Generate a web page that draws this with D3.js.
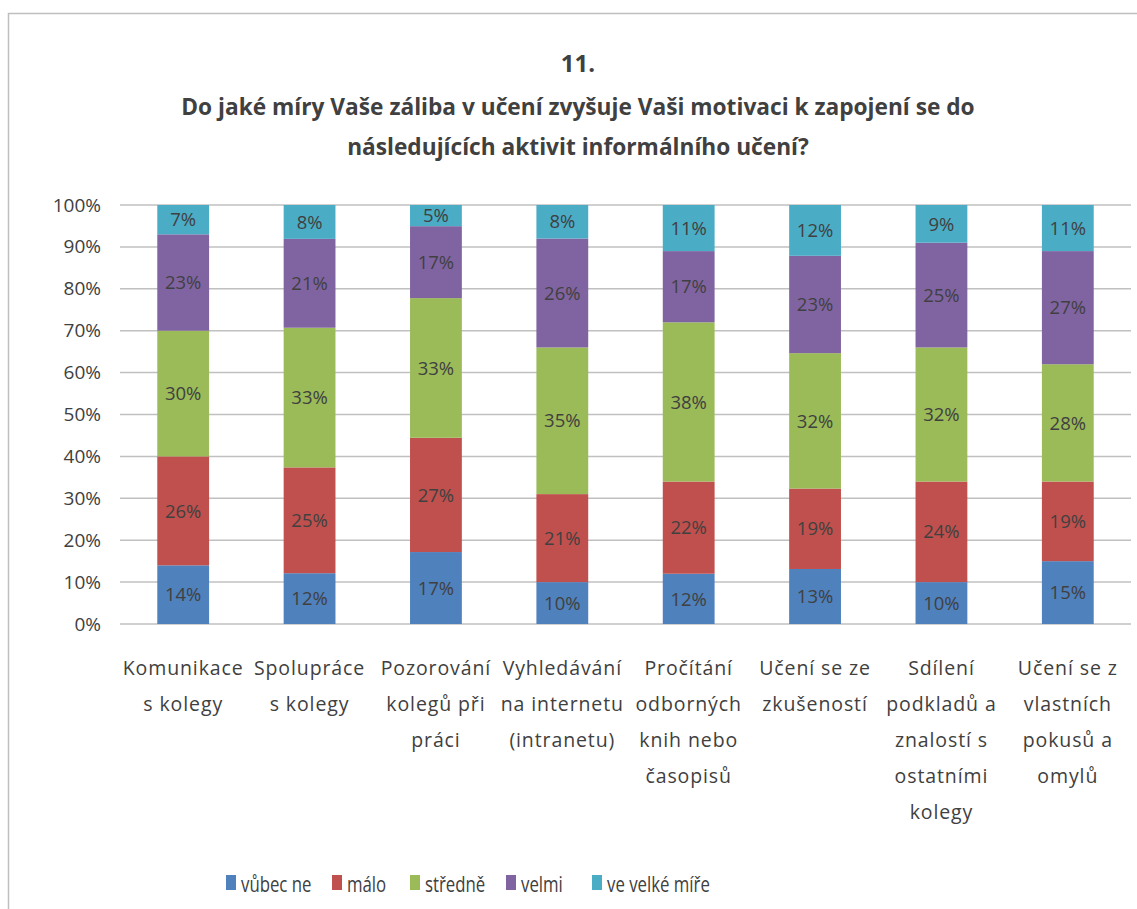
<!DOCTYPE html>
<html>
<head>
<meta charset="utf-8">
<script src="https://cdn.jsdelivr.net/npm/d3@7"></script>
<style>
  html, body { margin: 0; padding: 0; background: #fff; }
  svg text { font-family: "Open Sans", "Noto Sans", sans-serif; fill: #404040; }
</style>
</head>
<body>
<svg id="chart" width="1137" height="909"></svg>
<script>
// Activities (line breaks as shown under each bar)
const categories = [
  "Komunikace\ns kolegy",
  "Spolupráce\ns kolegy",
  "Pozorování\nkolegů při\npráci",
  "Vyhledávání\nna internetu\n(intranetu)",
  "Pročítání\nodborných\nknih nebo\nčasopisů",
  "Učení se ze\nzkušeností",
  "Sdílení\npodkladů a\nznalostí s\nostatními\nkolegy",
  "Učení se z\nvlastních\npokusů a\nomylů"
];

const seriesNames = ["vůbec ne", "málo", "středně", "velmi", "ve velké míře"];
const seriesColors = ["#4F81BD", "#C0504D", "#9BBB59", "#8064A2", "#4BACC6"];

// Percent answers per activity, one array per answer level
const vubecNe   = [14, 12, 17, 10, 12, 13, 10, 15];
const malo      = [26, 25, 27, 21, 22, 19, 24, 19];
const stredne   = [30, 33, 33, 35, 38, 32, 32, 28];
const velmi     = [23, 21, 17, 26, 17, 23, 25, 27];
const veVelkeMire = [7, 8, 5, 8, 11, 12, 9, 11];

const yTicks = [0, 0.1, 0.2, 0.3, 0.4, 0.5, 0.6, 0.7, 0.8, 0.9, 1];

const titleLines = [
  "11.",
  "Do jaké míry Vaše záliba v učení zvyšuje Vaši motivaci k zapojení se do",
  "následujících aktivit informálního učení?"
];

const seriesValues = [vubecNe, malo, stredne, velmi, veVelkeMire];
const rows = categories.map((c, i) => {
  const r = { category: c };
  seriesNames.forEach((s, k) => { r[s] = seriesValues[k][i]; });
  return r;
});

const svg = d3.select("#chart");

// chart frame
svg.append("rect")
  .attr("x", 8.5).attr("y", 13.5)
  .attr("width", 1160).attr("height", 920)
  .attr("fill", "none").attr("stroke", "#bfbfbf").attr("stroke-width", 1.5);

const plot = { left: 120, right: 1131, top: 205, bottom: 624 };

const x = d3.scaleBand()
  .domain(categories)
  .range([plot.left, plot.right])
  .paddingInner(0.59)
  .paddingOuter(0.295);

const y = d3.scaleLinear().domain([0, 1]).range([plot.bottom, plot.top]);

const stack = d3.stack().keys(seriesNames).offset(d3.stackOffsetExpand);
const stacked = stack(rows);

// gridlines
svg.append("g")
  .selectAll("line")
  .data(yTicks)
  .join("line")
  .attr("x1", plot.left).attr("x2", plot.right)
  .attr("y1", d => y(d)).attr("y2", d => y(d))
  .attr("stroke", "#c0c0c0").attr("stroke-width", 1.5);

// y axis labels
const yAxis = d3.axisLeft(y).tickValues(yTicks).tickFormat(d3.format(".0%")).tickSize(0).tickPadding(0);
const yg = svg.append("g").attr("transform", `translate(101,0)`).call(yAxis);
yg.select(".domain").remove();
yg.selectAll("text")
  .attr("font-size", 19)
  .attr("fill", "#404040")
  .attr("font-family", "Open Sans, sans-serif");

// bars
const layers = svg.append("g").selectAll("g")
  .data(stacked)
  .join("g")
  .attr("fill", (d, i) => seriesColors[i]);

layers.selectAll("rect")
  .data(d => d.map(p => ({ p, key: d.key })))
  .join("rect")
  .attr("x", d => x(d.p.data.category))
  .attr("width", x.bandwidth())
  .attr("y", d => y(d.p[1]))
  .attr("height", d => y(d.p[0]) - y(d.p[1]));

// value labels
layers.selectAll("text")
  .data(d => d.map(p => ({ p, key: d.key })))
  .join("text")
  .attr("x", d => x(d.p.data.category) + x.bandwidth() / 2)
  .attr("y", d => (y(d.p[0]) + y(d.p[1])) / 2)
  .attr("dy", "0.36em")
  .attr("text-anchor", "middle")
  .attr("font-size", 18.5)
  .text(d => d.p.data[d.key] + "%");

// category labels
const cat = svg.append("g").selectAll("text")
  .data(categories)
  .join("text")
  .attr("x", d => x(d) + x.bandwidth() / 2)
  .attr("y", 675)
  .attr("text-anchor", "middle")
  .attr("font-size", 19.5)
  .attr("letter-spacing", 0.9);
cat.selectAll("tspan")
  .data(d => d.split("\n"))
  .join("tspan")
  .attr("x", function () { return d3.select(this.parentNode).attr("x"); })
  .attr("dy", (d, i) => i === 0 ? 0 : 36)
  .text(d => d);

// title
svg.append("g").selectAll("text")
  .data(titleLines)
  .join("text")
  .attr("x", 578)
  .attr("y", (d, i) => [72, 115, 155][i])
  .attr("text-anchor", "middle")
  .attr("font-weight", "bold")
  .attr("font-size", (d, i) => i === 0 ? 24 : 22.7)
  .text(d => d);

// legend
const legendX = [226, 332, 410, 506, 592];
const legend = svg.append("g").selectAll("g")
  .data(seriesNames)
  .join("g")
  .attr("transform", (d, i) => `translate(${legendX[i]},875)`);
legend.append("rect")
  .attr("width", 10).attr("height", 15)
  .attr("fill", (d, i) => seriesColors[i]);
legend.append("text")
  .attr("transform", "translate(15,17) scale(0.8,1)")
  .attr("font-size", 21)
  .text(d => d);
</script>
</body>
</html>
